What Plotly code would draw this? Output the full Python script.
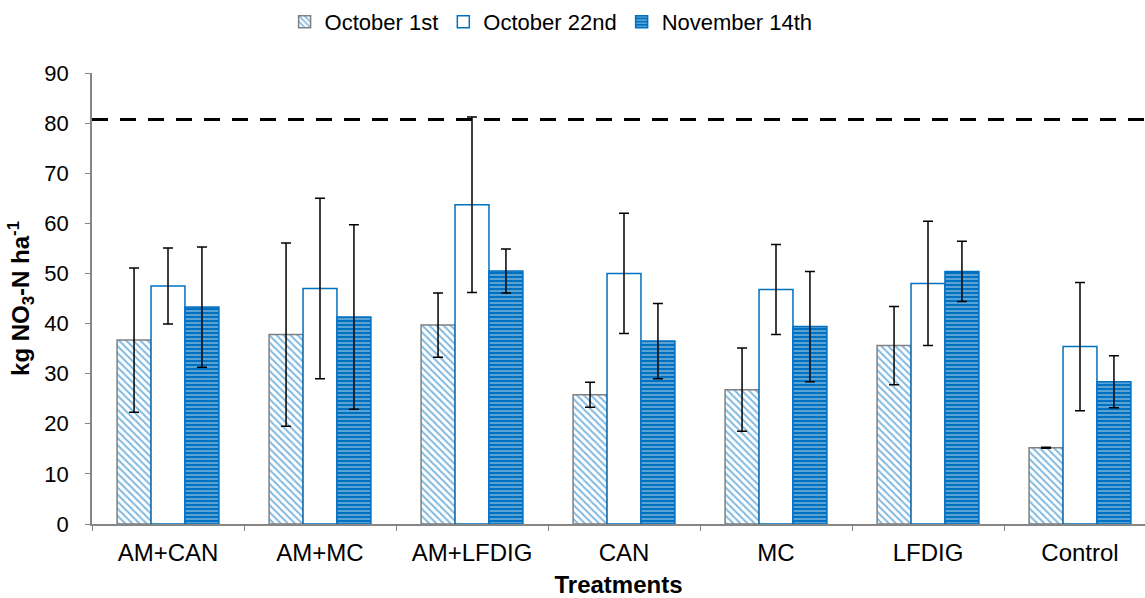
import plotly.graph_objects as go

categories = ["AM+CAN", "AM+MC", "AM+LFDIG", "CAN", "MC", "LFDIG", "Control"]
series_names = ["October 1st", "October 22nd", "November 14th"]
oct1 = [36.7, 37.8, 39.7, 25.8, 26.8, 35.6, 15.2]
oct1_err = [14.4, 18.3, 6.4, 2.5, 8.3, 7.8, 0.1]
oct22 = [47.5, 47.0, 63.7, 50.0, 46.8, 48.0, 35.4]
oct22_err = [7.6, 18.0, 17.5, 12.0, 9.0, 12.4, 12.8]
nov14 = [43.3, 41.3, 50.5, 36.5, 39.4, 50.4, 28.4]
nov14_err = [12.0, 18.4, 4.4, 7.5, 11.0, 6.0, 5.2]
reference_level = 80.7
y_ticks = [0, 10, 20, 30, 40, 50, 60, 70, 80, 90]

BLUE = "#0070C0"
GRAY = "#868686"
FONT = "Liberation Sans, Arial, sans-serif"

err_style = dict(type="data", visible=True, color="black", thickness=1.5, width=5)

fig = go.Figure()
fig.add_trace(go.Bar(
    name=series_names[0], x=categories, y=oct1,
    error_y=dict(array=oct1_err, **err_style),
    marker=dict(color="white", line=dict(color="#808080", width=1.5),
                pattern=dict(shape="\\", fgcolor=BLUE, bgcolor="white", size=5, solidity=0.4)),
))
fig.add_trace(go.Bar(
    name=series_names[1], x=categories, y=oct22,
    error_y=dict(array=oct22_err, **err_style),
    marker=dict(color="white", line=dict(color=BLUE, width=1.5)),
))
fig.add_trace(go.Bar(
    name=series_names[2], x=categories, y=nov14,
    error_y=dict(array=nov14_err, **err_style),
    marker=dict(color=BLUE, line=dict(color=BLUE, width=1.5),
                pattern=dict(shape="-", fgcolor="white", bgcolor=BLUE, size=4, solidity=0.35)),
))

fig.add_shape(type="line", xref="paper", yref="y", x0=0, x1=1,
              y0=reference_level, y1=reference_level,
              line=dict(color="black", width=3, dash="16px,12px"), layer="above")

fig.update_layout(
    width=1145, height=598,
    margin=dict(l=92, r=0, t=73, b=74),
    paper_bgcolor="white", plot_bgcolor="white",
    barmode="group", bargap=0.33, bargroupgap=0,
    font=dict(family=FONT, size=22, color="black"),
    legend=dict(orientation="h", x=0.436, xanchor="center", y=1.16, yanchor="top",
                font=dict(size=22), traceorder="normal", itemwidth=30),
    showlegend=True,
)
fig.update_xaxes(
    type="category", range=[-0.5, -0.5 + 1053 / 152],
    showline=True, linecolor=GRAY, linewidth=1.5,
    ticks="outside", tickson="boundaries", ticklen=5, tickcolor=GRAY,
    showgrid=False, tickfont=dict(size=24), ticklabelstandoff=6,
    title=dict(text="<b>Treatments</b>", font=dict(size=24), standoff=12),
)
fig.update_yaxes(
    range=[0, 90], tickvals=y_ticks,
    showline=True, linecolor=GRAY, linewidth=1.5,
    ticks="outside", ticklen=5, tickcolor=GRAY,
    showgrid=False, zeroline=False, tickfont=dict(size=22), ticklabelstandoff=12,
    title=dict(text="<b>kg NO<sub>3</sub>-N ha<sup>-1</sup></b>", font=dict(size=24), standoff=8),
)

fig.write_html("out.html")
